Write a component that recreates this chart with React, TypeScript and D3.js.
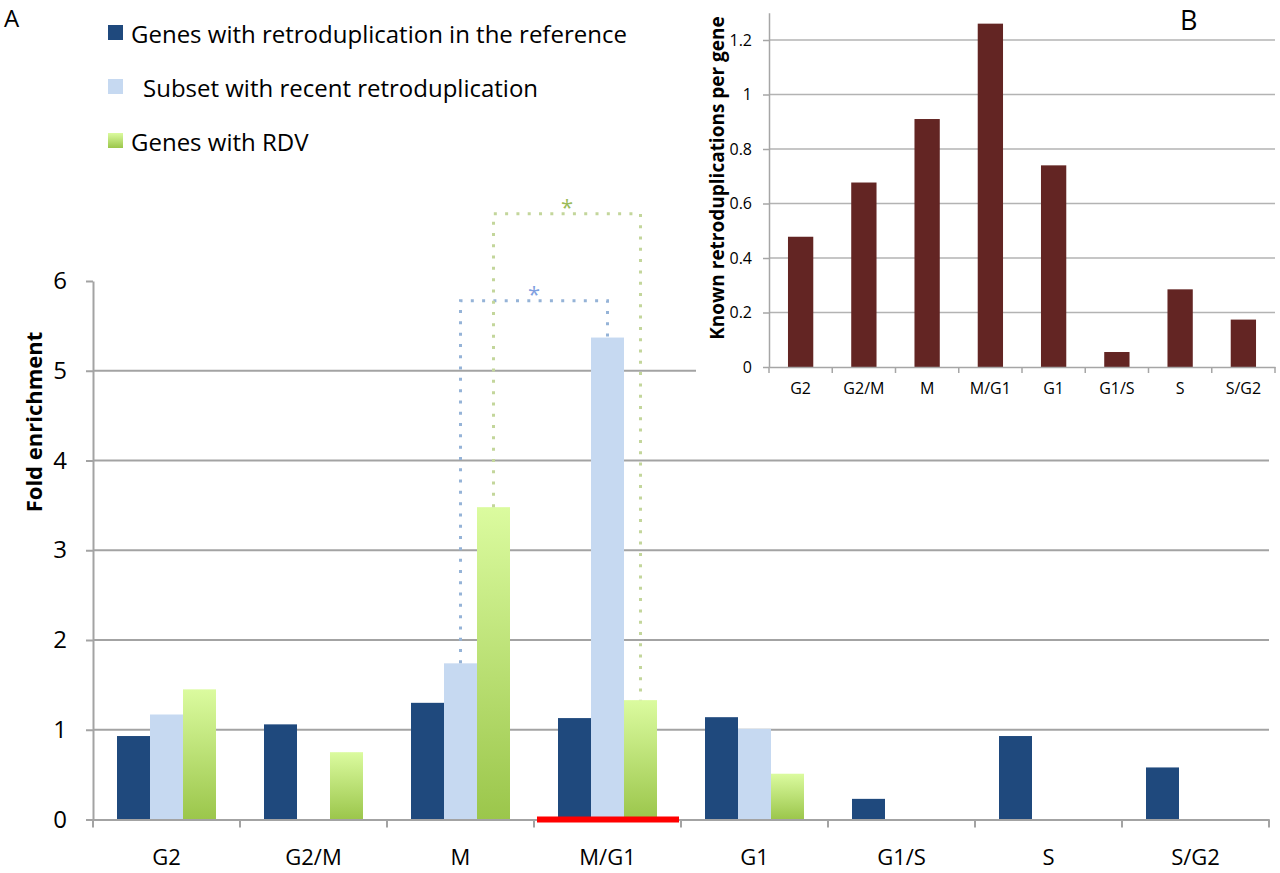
import * as d3 from "d3";
import { useEffect, useRef } from "react";

const phases = ["G2", "G2/M", "M", "M/G1", "G1", "G1/S", "S", "S/G2"];
const seriesNames = [
  "Genes with retroduplication in the reference",
  "Subset with recent retroduplication",
  "Genes with RDV",
];
const referenceGenes = [0.93, 1.06, 1.3, 1.13, 1.14, 0.23, 0.93, 0.58];
const recentSubset = [1.17, null, 1.74, 5.37, 1.01, null, null, null];
const rdvGenes = [1.45, 0.75, 3.48, 1.33, 0.51, null, null, null];
const mainTicks = [0, 1, 2, 3, 4, 5, 6];

const knownPerGene = [0.478, 0.677, 0.91, 1.26, 0.74, 0.055, 0.285, 0.174];
const insetTicks = [0, 0.2, 0.4, 0.6, 0.8, 1, 1.2];

// significance brackets: series index, the two phases, bracket height
const brackets = [
  { series: 1, from: "M", to: "M/G1", level: 5.78, color: "#95b3d7", star: "#7f9fe0" },
  { series: 2, from: "M", to: "M/G1", level: 6.75, color: "#c3d69b", star: "#9bbb59" },
];
const highlighted = "M/G1";

export default function App() {
  const ref = useRef<SVGSVGElement>(null);

  useEffect(() => {
    const svg = d3.select(ref.current);
    svg.selectAll("*").remove();
    const font = "'Open Sans', sans-serif";
    const grid = "#a3a3a3";

    const grad = svg
      .append("defs")
      .append("linearGradient")
      .attr("id", "rdvGrad")
      .attr("x1", 0)
      .attr("y1", 0)
      .attr("x2", 0)
      .attr("y2", 1);
    grad.append("stop").attr("offset", "0%").attr("stop-color", "#dbfb9f");
    grad.append("stop").attr("offset", "100%").attr("stop-color", "#9bc64b");
    const colors = ["#1f497d", "#c6d9f1", "url(#rdvGrad)"];
    const series = [referenceGenes, recentSubset, rdvGenes];

    // ---- main chart (A)
    const x = d3.scaleBand().domain(phases).range([93, 1269]);
    const x1 = d3.scaleBand<number>().domain([0, 1, 2]).range([24, 123]);
    const y = d3.scaleLinear().domain([0, 6]).range([819.5, 281]);

    svg
      .append("g")
      .selectAll("line")
      .data(mainTicks.filter((t) => t > 0 && t < 6))
      .join("line")
      .attr("x1", 93)
      .attr("x2", 1269)
      .attr("y1", (d) => y(d))
      .attr("y2", (d) => y(d))
      .attr("stroke", grid)
      .attr("stroke-width", 2);

    const bars = svg.append("g");
    series.forEach((vals, si) => {
      bars
        .selectAll(`rect.s${si}`)
        .data(phases.map((p, i) => ({ p, v: vals[i] })).filter((d) => d.v != null))
        .join("rect")
        .attr("class", `s${si}`)
        .attr("x", (d) => (x(d.p) as number) + (x1(si) as number))
        .attr("width", x1.bandwidth())
        .attr("y", (d) => y(d.v as number))
        .attr("height", (d) => y(0) - y(d.v as number))
        .attr("fill", colors[si]);
    });

    const yAxis = svg
      .append("g")
      .attr("transform", "translate(93,0)")
      .call(
        d3
          .axisLeft(y)
          .tickValues(mainTicks)
          .tickFormat((d) => String(d))
          .tickSize(7)
          .tickSizeOuter(0)
          .tickPadding(19)
      );
    yAxis.selectAll("path,line").attr("stroke", grid).attr("stroke-width", 2);
    yAxis.selectAll("text").attr("font-family", font).attr("font-size", 24).attr("fill", "#000");

    const xAxis = svg
      .append("g")
      .attr("transform", `translate(0,${y(0)})`)
      .call(d3.axisBottom(x).tickSize(0).tickSizeOuter(0).tickPadding(30));
    xAxis.selectAll("path").attr("stroke", grid).attr("stroke-width", 2);
    xAxis.selectAll("text").attr("font-family", font).attr("font-size", 22).attr("fill", "#000");
    xAxis
      .selectAll("line.edge")
      .data([...phases.map((p) => x(p) as number), 1269])
      .join("line")
      .attr("class", "edge")
      .attr("x1", (d) => d)
      .attr("x2", (d) => d)
      .attr("y1", 0)
      .attr("y2", 8)
      .attr("stroke", grid)
      .attr("stroke-width", 2);

    svg
      .append("rect")
      .attr("x", (x(highlighted) as number) + 3)
      .attr("width", x.bandwidth() - 5)
      .attr("y", y(0) - 3)
      .attr("height", 6)
      .attr("fill", "#ff0000");

    brackets.forEach((b) => {
      const vals = series[b.series];
      const x0 = (x(b.from) as number) + (x1(b.series) as number) + x1.bandwidth() / 2;
      const xe = (x(b.to) as number) + (x1(b.series) as number) + x1.bandwidth() / 2;
      const v0 = vals[phases.indexOf(b.from)] as number;
      const ve = vals[phases.indexOf(b.to)] as number;
      svg
        .append("path")
        .attr("d", `M${x0},${y(v0)}V${y(b.level)}H${xe}V${y(ve)}`)
        .attr("fill", "none")
        .attr("stroke", b.color)
        .attr("stroke-width", 3)
        .attr("stroke-dasharray", "3 8.3");
      svg
        .append("text")
        .attr("x", (x0 + xe) / 2)
        .attr("y", y(b.level) + 1)
        .attr("text-anchor", "middle")
        .attr("font-family", font)
        .attr("font-size", 22)
        .attr("fill", b.star)
        .text("*");
    });

    svg
      .append("text")
      .attr("transform", "translate(33,422) rotate(-90)")
      .attr("text-anchor", "middle")
      .attr("dominant-baseline", "central")
      .attr("font-family", font)
      .attr("font-weight", "bold")
      .attr("font-size", 22)
      .text("Fold enrichment");

    svg.append("text").attr("x", 4).attr("y", 27).attr("font-family", font).attr("font-size", 24).text("A");

    const legend = svg.append("g");
    seriesNames.forEach((name, i) => {
      legend
        .append("rect")
        .attr("x", 108)
        .attr("y", 25 + i * 54)
        .attr("width", 15)
        .attr("height", 15)
        .attr("fill", colors[i]);
      legend
        .append("text")
        .attr("x", i === 1 ? 143 : 131)
        .attr("y", 43 + i * 54)
        .attr("font-family", font)
        .attr("font-size", 24)
        .text(name);
    });

    // ---- inset (B)
    const inset = svg.append("g");
    inset.append("rect").attr("x", 696).attr("y", 0).attr("width", 584).attr("height", 400).attr("fill", "#fff");

    const xi = d3.scaleBand().domain(phases).range([769, 1275]).paddingInner(0.6).paddingOuter(0.3);
    const yi = d3.scaleLinear().domain([0, 1.3]).range([367, 12.75]);
    const step = xi.step();

    inset
      .selectAll("line.grid")
      .data(insetTicks.filter((t) => t > 0))
      .join("line")
      .attr("class", "grid")
      .attr("x1", 769)
      .attr("x2", 1275)
      .attr("y1", (d) => yi(d))
      .attr("y2", (d) => yi(d))
      .attr("stroke", "#b3b3b3")
      .attr("stroke-width", 1.5);

    inset
      .selectAll("rect.bar")
      .data(phases.map((p, i) => ({ p, v: knownPerGene[i] })))
      .join("rect")
      .attr("class", "bar")
      .attr("x", (d) => xi(d.p) as number)
      .attr("width", xi.bandwidth())
      .attr("y", (d) => yi(d.v))
      .attr("height", (d) => yi(0) - yi(d.v))
      .attr("fill", "#632523");

    const yiAxis = inset
      .append("g")
      .attr("transform", "translate(769,0)")
      .call(
        d3
          .axisLeft(yi)
          .tickValues(insetTicks)
          .tickFormat((d) => String(d))
          .tickSize(6)
          .tickSizeOuter(0)
          .tickPadding(11)
      );
    yiAxis.selectAll("path,line").attr("stroke", "#a6a6a6").attr("stroke-width", 1.5);
    yiAxis.selectAll("text").attr("font-family", font).attr("font-size", 16).attr("fill", "#000");

    const xiAxis = inset
      .append("g")
      .attr("transform", `translate(0,${yi(0)})`)
      .call(d3.axisBottom(xi).tickSize(0).tickSizeOuter(0).tickPadding(16));
    xiAxis.selectAll("path").attr("stroke", "#a6a6a6").attr("stroke-width", 1.5);
    xiAxis.selectAll("text").attr("font-family", font).attr("font-size", 16).attr("fill", "#000");
    xiAxis
      .selectAll("line.edge")
      .data(phases.map((p) => (xi(p) as number) - step * 0.3).concat([1275]))
      .join("line")
      .attr("class", "edge")
      .attr("x1", (d) => d)
      .attr("x2", (d) => d)
      .attr("y1", 0)
      .attr("y2", 6)
      .attr("stroke", "#a6a6a6")
      .attr("stroke-width", 1.5);

    inset
      .append("text")
      .attr("transform", "translate(717,178) rotate(-90)")
      .attr("text-anchor", "middle")
      .attr("dominant-baseline", "central")
      .attr("font-family", font)
      .attr("font-weight", "bold")
      .attr("font-size", 19)
      .text("Known retroduplications per gene");

    inset.append("text").attr("x", 1180).attr("y", 30).attr("font-family", font).attr("font-size", 27).text("B");
  });

  return (
    <svg
      ref={ref}
      width={1280}
      height={873}
      style={{ position: "absolute", left: 0, top: 0, background: "#fff" }}
    />
  );
}
